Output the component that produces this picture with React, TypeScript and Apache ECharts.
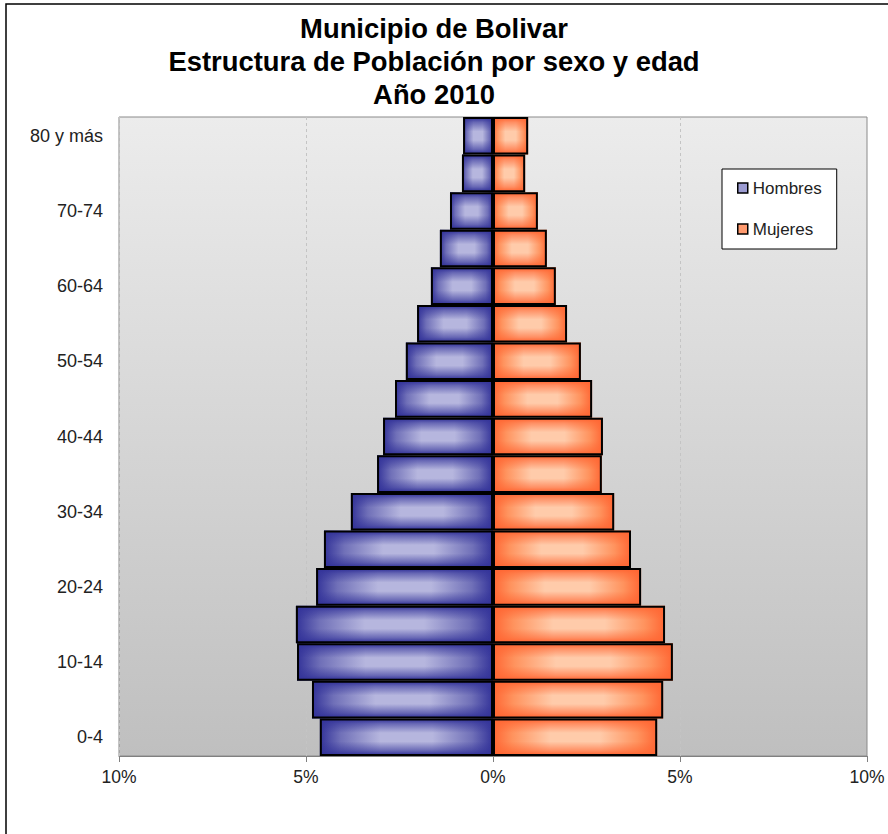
import React, { useEffect, useRef } from "react";
import * as echarts from "echarts";

const categories = [
  "0-4", "5-9", "10-14", "15-19", "20-24", "25-29", "30-34", "35-39", "40-44",
  "45-49", "50-54", "55-59", "60-64", "65-69", "70-74", "75-79", "80 y más",
];
const hombres = [4.63, 4.84, 5.24, 5.27, 4.73, 4.52, 3.8, 3.1, 2.94, 2.62, 2.33, 2.03, 1.66, 1.42, 1.15, 0.83, 0.8];
const mujeres = [4.39, 4.55, 4.81, 4.6, 3.96, 3.69, 3.24, 2.91, 2.94, 2.65, 2.35, 1.98, 1.68, 1.44, 1.2, 0.86, 0.94];
const titleLines = ["Municipio de Bolivar", "Estructura de Población por sexo y edad", "Año 2010"];

const FONT = "'Liberation Sans', Arial, sans-serif";

function hGrad(edge: string, mid: string, light: string) {
  return new echarts.graphic.LinearGradient(0, 0, 1, 0, [
    { offset: 0, color: edge },
    { offset: 0.12, color: mid },
    { offset: 0.35, color: light },
    { offset: 0.65, color: light },
    { offset: 0.88, color: mid },
    { offset: 1, color: edge },
  ]);
}
function vGrad(rgb: string) {
  return new echarts.graphic.LinearGradient(0, 0, 0, 1, [
    { offset: 0, color: `rgba(${rgb},1)` },
    { offset: 0.12, color: `rgba(${rgb},0.6)` },
    { offset: 0.38, color: `rgba(${rgb},0)` },
    { offset: 0.62, color: `rgba(${rgb},0)` },
    { offset: 0.88, color: `rgba(${rgb},0.6)` },
    { offset: 1, color: `rgba(${rgb},1)` },
  ]);
}

export default function App() {
  const ref = useRef<HTMLDivElement>(null);
  useEffect(() => {
    if (!ref.current) return;
    const chart = echarts.init(ref.current, null, { renderer: "svg" });
    const blueH = hGrad("#333399", "#7070b8", "#b6b6de");
    const orangeH = hGrad("#ff6633", "#ff935e", "#ffcbaa");
    const common = {
      type: "bar",
      barGap: "-100%",
      barCategoryGap: "0%",
    };
    chart.setOption({
      animation: false,
      backgroundColor: "#ffffff",
      textStyle: { fontFamily: FONT },
      title: {
        text: titleLines.join("\n"),
        left: 429,
        top: 7,
        textAlign: "center",
        textStyle: { fontFamily: FONT, fontSize: 27.4, fontWeight: "bold", lineHeight: 33, color: "#000" },
      },
      graphic: [
        {
          type: "rect",
          shape: { x: 6, y: 4, width: 1000, height: 1000 },
          style: { fill: "none", stroke: "#000", lineWidth: 1.5 },
          silent: true,
          z: 100,
        },
      ],
      legend: {
        orient: "vertical",
        left: 722,
        top: 169,
        padding: [10, 15, 11, 15],
        itemGap: 23,
        itemWidth: 10,
        itemHeight: 10,
        backgroundColor: "#ffffff",
        borderColor: "#000",
        borderWidth: 1,
        borderRadius: 0,
        icon: "rect",
        textStyle: { fontFamily: FONT, fontSize: 17, lineHeight: 18, color: "#222" },
        data: [
          { name: "Hombres", itemStyle: { color: "#9c9cd2", borderColor: "#000", borderWidth: 1.5 } },
          { name: "Mujeres", itemStyle: { color: "#ff9a6e", borderColor: "#000", borderWidth: 1.5 } },
        ],
      },
      grid: {
        left: 119,
        right: 21,
        top: 117,
        bottom: 78,
        show: true,
        backgroundColor: new echarts.graphic.LinearGradient(0, 0, 0, 1, [
          { offset: 0, color: "#ececec" },
          { offset: 1, color: "#bfbfbf" },
        ]),
        borderColor: "#8a8a8a",
        borderWidth: 1,
      },
      xAxis: {
        type: "value",
        min: -10,
        max: 10,
        interval: 5,
        axisLabel: {
          formatter: (v: number) => `${Math.abs(v)}%`,
          fontFamily: FONT,
          fontSize: 17.5,
          color: "#222",
          margin: 12,
        },
        axisLine: { show: true, lineStyle: { color: "#808080", width: 1 } },
        axisTick: { show: true, length: 6, lineStyle: { color: "#808080" } },
        splitLine: { show: true, lineStyle: { color: "#c4c4c4", type: [3, 3], width: 1 } },
      },
      yAxis: {
        type: "category",
        data: categories,
        axisLabel: { interval: 1, fontFamily: FONT, fontSize: 18, color: "#222", margin: 16 },
        axisLine: { show: false },
        axisTick: { show: false },
        splitLine: { show: false },
      },
      series: [
        { ...common, name: "Hombres", data: hombres.map((v) => -v), itemStyle: { color: blueH } },
        { ...common, name: "Mujeres", data: mujeres, itemStyle: { color: orangeH } },
        {
          ...common,
          name: "Hombres borde",
          data: hombres.map((v) => -v),
          itemStyle: { color: vGrad("51,51,153"), borderColor: "#000", borderWidth: 2 },
        },
        {
          ...common,
          name: "Mujeres borde",
          data: mujeres,
          itemStyle: { color: vGrad("255,102,51"), borderColor: "#000", borderWidth: 2 },
        },
      ],
    });
    return () => chart.dispose();
  }, []);
  return (
    <div
      ref={ref}
      style={{ position: "fixed", left: 0, top: 0, width: 888, height: 834 }}
    />
  );
}
